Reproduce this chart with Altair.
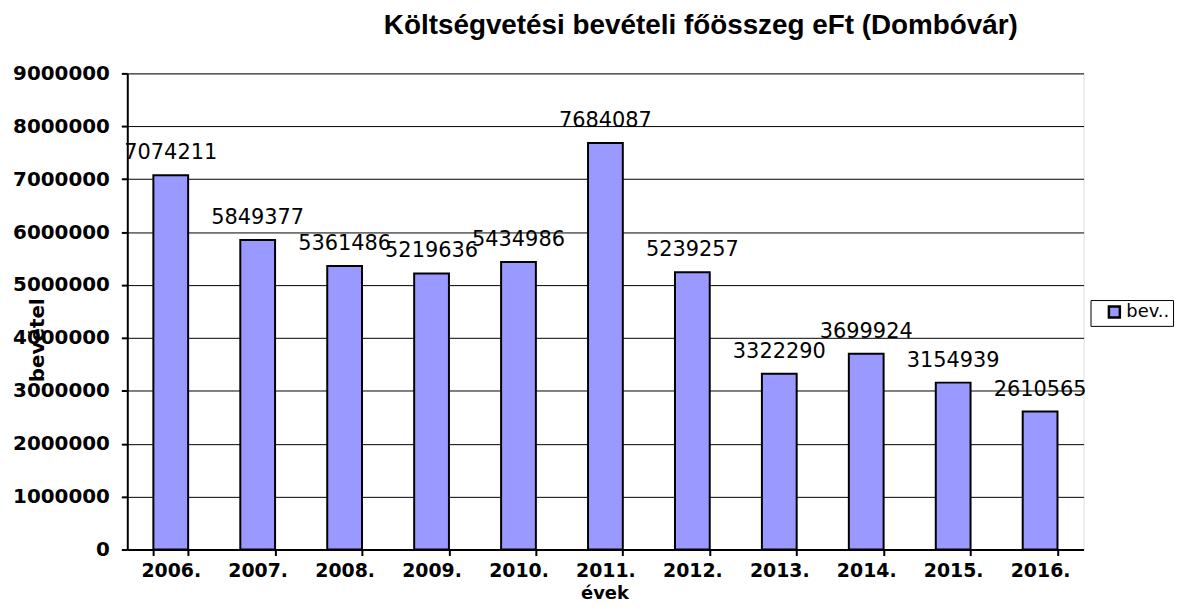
import altair as alt
import pandas as pd

years = ["2006.", "2007.", "2008.", "2009.", "2010.", "2011.", "2012.", "2013.", "2014.", "2015.", "2016."]
values = [7074211, 5849377, 5361486, 5219636, 5434986, 7684087, 5239257, 3322290, 3699924, 3154939, 2610565]
series_name = "bevétel"
y_ticks = [0, 1000000, 2000000, 3000000, 4000000, 5000000, 6000000, 7000000, 8000000, 9000000]

df = pd.DataFrame({"ev": years, "bevetel": values, "sorozat": [series_name] * len(years)})

FONT = "DejaVu Sans"

x_enc = alt.X(
    "ev:N", sort=years, title="évek",
    scale=alt.Scale(paddingInner=0.6, paddingOuter=0.3),
    axis=alt.Axis(
        labelAngle=0, tickBand="extent", domainColor="black", domainWidth=2,
        tickColor="black", tickSize=6, tickWidth=2,
        labelFont=FONT, labelFontSize=19, labelFontWeight="bold", labelColor="black",
        labelPadding=6,
        titleFont=FONT, titleFontSize=18, titleFontWeight="bold", titleColor="black",
        titleX=480, titleY=49, titleBaseline="alphabetic", titleAlign="center",
    ),
)
y_enc = alt.Y(
    "bevetel:Q", title="bevétel",
    scale=alt.Scale(domain=[0, 9000000], nice=False),
    axis=alt.Axis(
        values=y_ticks, format="d", grid=True, gridColor="black", gridWidth=1,
        domainColor="black", domainWidth=2, tickColor="black", tickSize=6, tickWidth=2,
        labelFont=FONT, labelFontSize=20, labelFontWeight="bold", labelColor="black",
        labelPadding=12,
        titleFont=FONT, titleFontSize=20, titleFontWeight="bold", titleColor="black",
        titleX=-90, titleY=268, titleAngle=270, titleBaseline="middle", titleAlign="center",
    ),
)

bars = alt.Chart(df).mark_bar(stroke="black", strokeWidth=2).encode(
    x=x_enc,
    y=y_enc,
    color=alt.Color(
        "sorozat:N",
        scale=alt.Scale(range=["#9999FF"]),
        legend=alt.Legend(
            title=None, orient="none", legendX=969, legendY=228,
            strokeColor="black", fillColor="white", padding=3,
            symbolType="square", symbolSize=121, symbolStrokeColor="black", symbolStrokeWidth=2.5,
            symbolOffset=12, labelOffset=3,
            labelFont=FONT, labelFontSize=18, labelColor="black", labelExpr="'bev..'",
        ),
    ),
)

labels = alt.Chart(df).mark_text(
    dy=-22, baseline="middle", align="center", font=FONT, fontSize=21, color="black"
).encode(
    x=alt.X("ev:N", sort=years),
    y=alt.Y("bevetel:Q"),
    text=alt.Text("bevetel:Q", format="d"),
)

chart = (
    alt.layer(bars, labels)
    .properties(
        width=962, height=479,
        autosize=alt.AutoSizeParams(type="none"),
        padding={"left": 120, "top": 64, "right": 94, "bottom": 53},
        title=alt.TitleParams(
            "Költségvetési bevételi főösszeg eFt (Dombóvár)",
            font="Liberation Sans", fontSize=28, fontWeight="bold", color="black",
            anchor="middle", dx=96, offset=24,
        ),
    )
    .configure_view(fill="#C0C0C0", stroke="#808080", strokeWidth=1)
    .configure(background="white")
)

chart.save("out.html", embed_options={"renderer": "svg", "actions": False})
